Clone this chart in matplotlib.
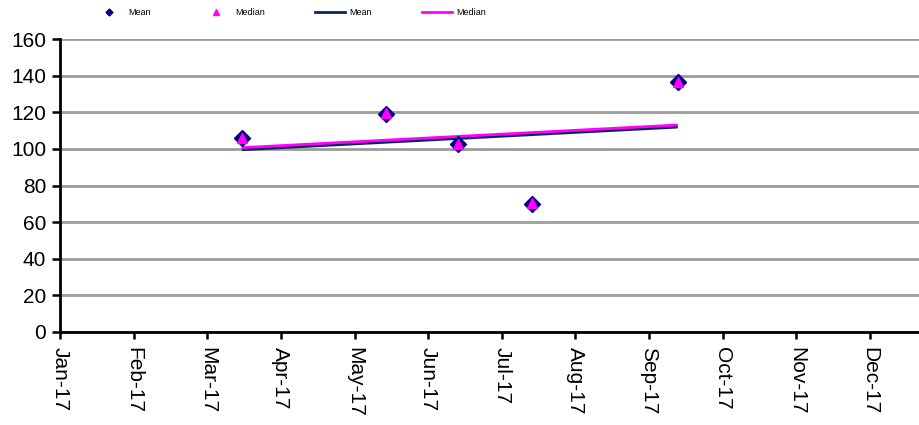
import matplotlib
matplotlib.use("Agg")
import matplotlib.pyplot as plt
from matplotlib.lines import Line2D

plt.rcParams['font.family'] = ['Liberation Sans', 'DejaVu Sans']

# ---------------- DATA ----------------
# x positions are in months from Jan-17 (0 = Jan-17, 1 = Feb-17, ...)
month_labels = ["Jan-17", "Feb-17", "Mar-17", "Apr-17", "May-17", "Jun-17",
                "Jul-17", "Aug-17", "Sep-17", "Oct-17", "Nov-17", "Dec-17"]
sample_x = [2.47, 4.43, 5.40, 6.41, 8.39]
mean_vals = [105.8, 119.1, 102.5, 69.9, 136.5]
median_vals = [106.2, 119.5, 102.9, 70.3, 136.9]

# linear trend lines (at first and last sample)
trend_x = [2.47, 8.39]
mean_trend = [99.8, 112.2]
median_trend = [100.7, 113.1]

NAVY = "#000080"
TREND_NAVY = "#0b2460"
MAGENTA = "#ff00ff"

# ---------------- PLOT ----------------
fig = plt.figure(figsize=(9.2, 4.25), dpi=100)
ax = fig.add_axes([60 / 920, 1 - 331.7 / 425, 1 - 60 / 920, (331.7 - 39.3) / 425])

ax.plot(trend_x, mean_trend, color=TREND_NAVY, linewidth=2.6, zorder=3, solid_capstyle="butt")
ax.plot(trend_x, median_trend, color=MAGENTA, linewidth=2.0, zorder=3, solid_capstyle="butt")

ax.plot(sample_x, mean_vals, linestyle="none", marker="D", markersize=8.3,
        color=NAVY, markeredgecolor=NAVY, zorder=4)
ax.plot(sample_x, median_vals, linestyle="none", marker="^", markersize=6.8,
        color=MAGENTA, markeredgecolor=MAGENTA, zorder=5)

ax.set_xlim(0, 11.68)
ax.set_ylim(0, 160)
ax.set_yticks(range(0, 161, 20))
ax.set_xticks(range(len(month_labels)))
ax.set_xticklabels(month_labels, rotation=-90, fontsize=15, va="top", ha="center")
ax.tick_params(axis="y", labelsize=15, direction="out", length=6, width=1.8, pad=4)
ax.tick_params(axis="x", direction="out", length=5, width=1.8, pad=6)

ax.grid(axis="y", color="#9c9c9c", linewidth=2)
ax.set_axisbelow(True)
for side in ("top", "right"):
    ax.spines[side].set_visible(False)
for side in ("left", "bottom"):
    ax.spines[side].set_linewidth(2)
    ax.spines[side].set_color("black")
    ax.spines[side].set_zorder(6)

handles = [
    Line2D([], [], linestyle="none", marker="D", markersize=3.5, color=NAVY),
    Line2D([], [], linestyle="none", marker="^", markersize=4, color=MAGENTA),
    Line2D([], [], color=TREND_NAVY, linewidth=2),
    Line2D([], [], color=MAGENTA, linewidth=2),
]
fig.legend(handles, ["Mean", "Median", "Mean", "Median"], ncol=4,
           loc="center left", bbox_to_anchor=(94 / 920, 1 - 12.7 / 425),
           frameon=False, fontsize=6.5, handlelength=3.3, handletextpad=0.45,
           columnspacing=5.6, borderpad=0, borderaxespad=0)

fig.savefig("out.png", dpi=100)
